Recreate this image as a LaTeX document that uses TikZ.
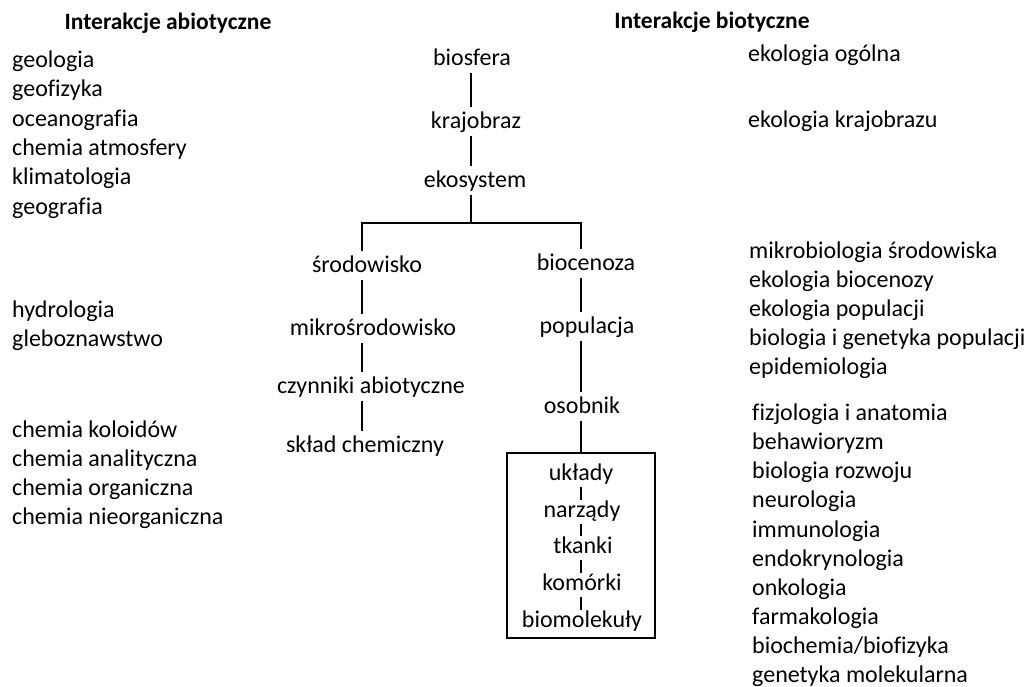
\documentclass[tikz,border=0pt]{standalone}
\usepackage{fontspec}
\setmainfont[Ligatures=NoCommon]{Carlito}
\begin{document}
\begin{tikzpicture}[x=1pt,y=-1pt,
  txt/.style={font=\fontsize{24}{29}\selectfont, inner sep=0pt, anchor=base west},
  head/.style={font=\fontsize{23.5}{28}\selectfont\bfseries, inner sep=0pt, anchor=base},
  level/.style={font=\fontsize{24}{29}\selectfont, inner sep=0pt, anchor=base,
    text height=21pt, text depth=8pt},
  inlevel/.style={font=\fontsize{24}{29}\selectfont, inner sep=0pt, anchor=base,
    text height=17pt, text depth=7pt},
  link/.style={line width=2pt},
  thin link/.style={line width=1.5pt}]
\useasboundingbox (0,0) rectangle (1027,686);

% column headings
\node[head] (habio) at (168,29) {Interakcje abiotyczne};
\node[head] (hbio)  at (712,28) {Interakcje biotyczne};

% abiotic sciences (left column)
\node[txt] (a1)  at (12,67)  {geologia};
\node[txt] (a2)  at (12,96.5) {geofizyka};
\node[txt] (a3)  at (12,126) {oceanografia};
\node[txt] (a4)  at (12,155) {chemia atmosfery};
\node[txt] (a5)  at (12,184.5) {klimatologia};
\node[txt] (a6)  at (12,214) {geografia};
\node[txt] (a7)  at (12,317) {hydrologia};
\node[txt] (a8)  at (12,346) {gleboznawstwo};
\node[txt] (a9)  at (12,437) {chemia koloidów};
\node[txt] (a10) at (12,466) {chemia analityczna};
\node[txt] (a11) at (12,495) {chemia organiczna};
\node[txt] (a12) at (12,524) {chemia nieorganiczna};

% biotic sciences (right column)
\node[txt] (b1)  at (748,61)  {ekologia ogólna};
\node[txt] (b2)  at (748,127) {ekologia krajobrazu};
\node[txt] (b3)  at (749,258) {mikrobiologia środowiska};
\node[txt] (b4)  at (749,287) {ekologia biocenozy};
\node[txt] (b5)  at (749,316) {ekologia populacji};
\node[txt] (b6)  at (749,345) {biologia i genetyka populacji};
\node[txt] (b7)  at (749,374) {epidemiologia};
\node[txt] (b8)  at (752,420) {fizjologia i anatomia};
\node[txt] (b9)  at (752,449) {behawioryzm};
\node[txt] (b10) at (752,478) {biologia rozwoju};
\node[txt] (b11) at (752,507) {neurologia};
\node[txt] (b12) at (752,537) {immunologia};
\node[txt] (b13) at (752,566) {endokrynologia};
\node[txt] (b14) at (752,595) {onkologia};
\node[txt] (b15) at (752,624) {farmakologia};
\node[txt] (b16) at (752,653) {biochemia/biofizyka};
\node[txt] (b17) at (752,682) {genetyka molekularna};

% x positions of the vertical connectors
\coordinate (cx) at (470.5,0);
\coordinate (lx) at (362,0);
\coordinate (rx) at (581,0);
\coordinate (bar) at (470.5,223);

% main hierarchy
\node[level] (bios) at (472,65)  {biosfera};
\node[level] (kraj) at (476,128) {krajobraz};
\node[level] (eko)  at (475,187) {ekosystem};

\node[level] (sro)  at (367,272) {środowisko};
\node[level] (mik)  at (373,335) {mikrośrodowisko};
\node[level] (czy)  at (371,393) {czynniki abiotyczne};
\node[level] (skl)  at (365,452) {skład chemiczny};

\node[level] (bioc) at (586,270) {biocenoza};
\node[level] (pop)  at (587,333) {populacja};
\node[level] (oso)  at (582,413) {osobnik};

% levels inside the organism
\node[draw, line width=1.6pt, minimum width=148pt, minimum height=185.5pt, inner sep=0pt]
  (box) at (581,545.5) {};
\node[inlevel] (ukl) at (581,480) {układy};
\node[inlevel] (nar) at (582,517) {narządy};
\node[inlevel] (tka) at (583,553) {tkanki};
\node[inlevel] (kom) at (582,590) {komórki};
\node[inlevel] (bmo) at (582,627) {biomolekuły};

% connectors
\draw[link] (bios.south -| cx) -- (kraj.north -| cx);
\draw[link] (kraj.south -| cx) -- (eko.north -| cx);
\draw[link] (eko.south -| cx) -- (bar);
\draw[link] (sro.north -| lx) -- (lx |- bar) -- (rx |- bar) -- (bioc.north -| rx);

\draw[link] (sro.south -| lx) -- (mik.north -| lx);
\draw[link] (mik.south -| lx) -- (czy.north -| lx);
\draw[link] (czy.south -| lx) -- (skl.north -| lx);

\draw[link] (bioc.south -| rx) -- (pop.north -| rx);
\draw[link] (pop.south -| rx) -- (oso.north -| rx);
\draw[line width=2.6pt] (oso.south -| rx) -- (box.north -| rx);

\draw[thin link] (ukl.south -| rx) -- (nar.north -| rx);
\draw[link] (nar.south -| rx) -- (tka.north -| rx);
\draw[link] (tka.south -| rx) -- (kom.north -| rx);
\draw[thin link] (kom.south -| rx) -- (bmo.north -| rx);
\end{tikzpicture}
\end{document}
